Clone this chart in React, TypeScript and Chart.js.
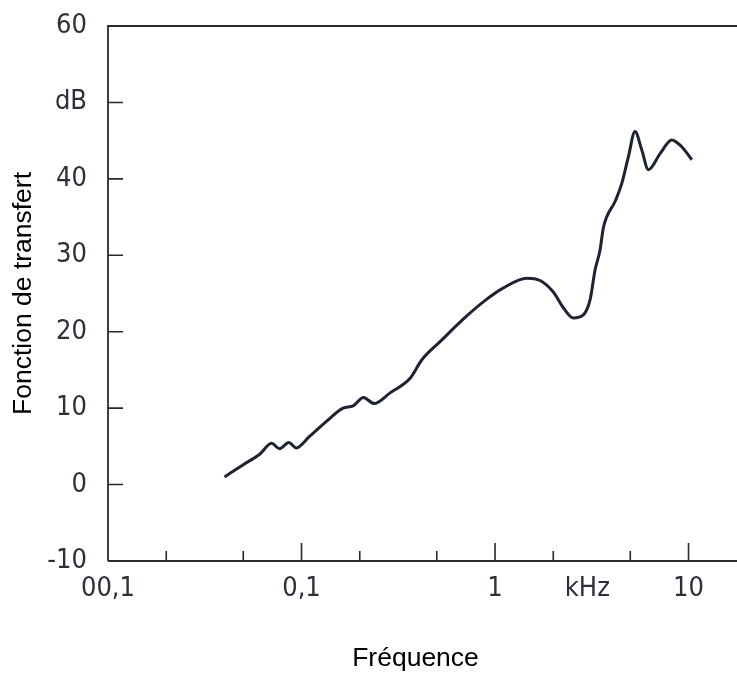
import React, { useEffect, useRef } from 'react';
import { Chart, registerables } from 'chart.js';

Chart.register(...registerables);

// Frequency (kHz) and transfer function (dB)
const freqKHz = [0.040, 0.050, 0.061, 0.070, 0.077, 0.086, 0.094, 0.11, 0.135, 0.164, 0.185, 0.209, 0.237, 0.287, 0.364, 0.418, 0.52, 0.71, 0.89, 1.10, 1.46, 1.71, 2.0, 2.26, 2.54, 2.86, 3.1, 3.29, 3.49, 3.63, 4.2, 4.52, 4.89, 5.29, 5.73, 6.2, 7.13, 8.19, 9.22, 10.4];
const gainDb = [1.0, 2.6, 4.0, 5.4, 4.7, 5.5, 4.8, 6.3, 8.3, 10.0, 10.3, 11.4, 10.6, 12.0, 13.9, 16.3, 18.7, 22.0, 24.1, 25.7, 27.0, 26.7, 25.2, 23.1, 21.8, 22.2, 24.2, 28.1, 30.7, 33.6, 37.2, 39.4, 42.9, 46.2, 43.8, 41.2, 43.3, 45.1, 44.2, 42.5];

// Axis labels
const xLabelValues = [0.01, 0.1, 1, 3, 10];
const xLabelTexts = ['00,1', '0,1', '1', 'kHz', '10'];
const xMajorMarks = [0.1, 1, 10];
const xMinorMarks = [0.02, 0.05, 0.2, 0.5, 2, 5];
const yTickValues = [-10, 0, 10, 20, 30, 40, 50, 60];
const yTickTexts = ['-10', '0', '10', '20', '30', '40', 'dB', '60'];
const yMarks = [0, 10, 20, 30, 40, 50];

const xTitle = 'Fréquence';
const yTitle = 'Fonction de transfert';

const INK = '#1d2330';
const AXIS = '#2a2a2e';
const LABEL = '#2c303a';
const TICK_FONT = '"DejaVu Sans Condensed", "DejaVu Sans", sans-serif';
const TITLE_FONT = '"Liberation Sans", Arial, sans-serif';

const frame = {
  id: 'frame',
  afterDraw(chart: any) {
    const { ctx, chartArea, scales } = chart;
    const x = scales.x;
    const y = scales.y;
    ctx.save();
    ctx.strokeStyle = AXIS;
    ctx.lineWidth = 1.8;
    ctx.lineCap = 'butt';
    ctx.beginPath();
    // left axis, top border, bottom axis (the frame runs on past the right edge)
    ctx.moveTo(chartArea.left, chartArea.bottom);
    ctx.lineTo(chartArea.left, chartArea.top);
    ctx.lineTo(chart.width, chartArea.top);
    ctx.moveTo(chartArea.left, chartArea.bottom);
    ctx.lineTo(chart.width, chartArea.bottom);
    ctx.stroke();
    ctx.lineWidth = 1.6;
    ctx.beginPath();
    xMajorMarks.forEach((v) => {
      const px = x.getPixelForValue(v);
      ctx.moveTo(px, chartArea.bottom);
      ctx.lineTo(px, chartArea.bottom - 18);
    });
    xMinorMarks.forEach((v) => {
      const px = x.getPixelForValue(v);
      ctx.moveTo(px, chartArea.bottom);
      ctx.lineTo(px, chartArea.bottom - 10);
    });
    yMarks.forEach((v) => {
      const py = y.getPixelForValue(v);
      ctx.moveTo(chartArea.left, py);
      ctx.lineTo(chartArea.left + 15, py);
    });
    ctx.stroke();
    ctx.restore();
  },
};

export default function App() {
  const ref = useRef<HTMLCanvasElement | null>(null);

  useEffect(() => {
    if (!ref.current) return;
    const chart = new Chart(ref.current, {
      type: 'line',
      data: {
        datasets: [
          {
            data: freqKHz.map((f, i) => ({ x: f, y: gainDb[i] })),
            borderColor: INK,
            borderWidth: 3,
            pointRadius: 0,
            cubicInterpolationMode: 'monotone',
            fill: false,
          },
        ],
      },
      options: {
        animation: false,
        responsive: false,
        devicePixelRatio: 1,
        layout: { padding: { top: 26, left: 0, right: 14, bottom: 0 } },
        plugins: { legend: { display: false }, tooltip: { enabled: false } },
        scales: {
          x: {
            type: 'logarithmic',
            min: 0.01,
            max: 15.07,
            afterBuildTicks: (s: any) => {
              s.ticks = xLabelValues.map((v) => ({ value: v }));
            },
            afterFit: (s: any) => {
              s.height = 112;
              s.paddingLeft = 0;
              s.paddingRight = 0;
            },
            grid: { display: false, drawTicks: false },
            border: { display: false },
            ticks: {
              autoSkip: false,
              maxRotation: 0,
              minRotation: 0,
              padding: 12,
              color: LABEL,
              font: { family: TICK_FONT, size: 27 },
              callback: (v: any) => {
                const i = xLabelValues.findIndex((t) => Math.abs(t - Number(v)) < 1e-9);
                return i >= 0 ? xLabelTexts[i] : '';
              },
            },
            title: {
              display: true,
              text: xTitle,
              color: '#000',
              font: { family: TITLE_FONT, size: 26.5, lineHeight: 1.1 },
              padding: { top: 0, bottom: 0 },
            },
          },
          y: {
            type: 'linear',
            min: -10,
            max: 60,
            afterBuildTicks: (s: any) => {
              s.ticks = yTickValues.map((v) => ({ value: v }));
            },
            afterFit: (s: any) => {
              s.width = 108;
              s.paddingTop = 0;
              s.paddingBottom = 0;
            },
            grid: { display: false, drawTicks: false },
            border: { display: false },
            ticks: {
              padding: 21,
              color: LABEL,
              font: { family: TICK_FONT, size: 27 },
              callback: (v: any) => {
                const i = yTickValues.indexOf(Number(v));
                return i >= 0 ? yTickTexts[i] : '';
              },
            },
            title: {
              display: true,
              text: yTitle,
              color: '#000',
              font: { family: TITLE_FONT, size: 26.5 },
              padding: { top: 8, bottom: 0 },
            },
          },
        },
      },
      plugins: [frame],
    });
    return () => chart.destroy();
  }, []);

  return (
    <div style={{ position: 'absolute', left: 0, top: 0, width: 737, height: 673, background: '#fff' }}>
      <canvas ref={ref} width={737} height={673} />
    </div>
  );
}
